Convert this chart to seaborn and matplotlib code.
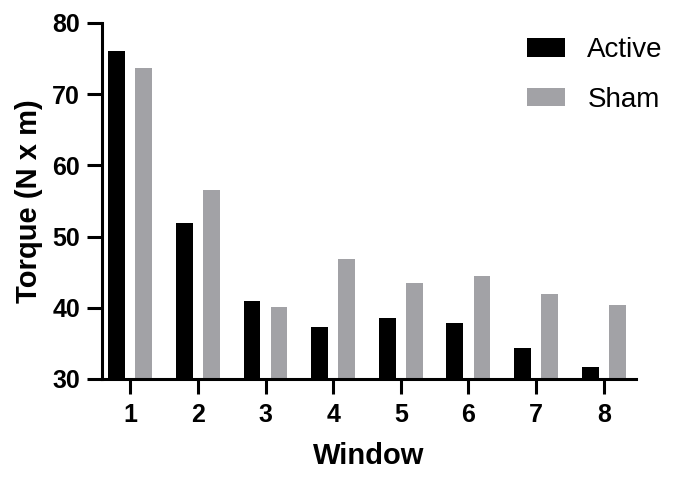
import pandas as pd
import numpy as np
import matplotlib
matplotlib.use("Agg")
import matplotlib.pyplot as plt
import seaborn as sns

windows = ["1", "2", "3", "4", "5", "6", "7", "8"]
active = [76.0, 51.9, 40.9, 37.3, 38.5, 37.9, 34.3, 31.7]
sham = [73.7, 56.5, 40.1, 46.8, 43.5, 44.5, 41.9, 40.4]
groups = ["Active", "Sham"]
colors = {"Active": "#000000", "Sham": "#a2a2a6"}

df = pd.DataFrame({
    "Window": windows * 2,
    "Torque": active + sham,
    "Group": ["Active"] * len(windows) + ["Sham"] * len(windows),
})

sns.set_style("ticks")
plt.rcParams["font.family"] = ["Liberation Sans", "DejaVu Sans"]
plt.rcParams["text.color"] = "black"
plt.rcParams["axes.labelcolor"] = "black"
plt.rcParams["xtick.color"] = "black"
plt.rcParams["ytick.color"] = "black"

fig = plt.figure(figsize=(6.74, 4.79), dpi=100)
ax = fig.add_axes([0.151, 0.209, 0.792, 0.743])

sns.barplot(data=df, x="Window", y="Torque", hue="Group", hue_order=groups,
            palette=colors, gap=0.375, width=0.8, saturation=1,
            linewidth=0, ax=ax)

ax.set_ylim(30, 80)
ax.set_yticks([30, 40, 50, 60, 70, 80])
ax.set_xlim(-0.42, 7.47)
ax.set_xlabel("Window", fontsize=21, fontweight="bold", labelpad=11)
ax.set_ylabel("Torque (N x m)", fontsize=21, fontweight="bold", labelpad=7)

for side in ["top", "right"]:
    ax.spines[side].set_visible(False)
for side in ["left", "bottom"]:
    ax.spines[side].set_linewidth(2.2)
    ax.spines[side].set_color("black")
ax.tick_params(axis="both", width=2.2, length=10.5, labelsize=18, pad=5)
ax.tick_params(axis="x", pad=7)
for lab in ax.get_xticklabels() + ax.get_yticklabels():
    lab.set_fontweight("bold")

ax.legend(loc="upper left", bbox_to_anchor=(527 / 674, 1 - 37 / 479),
          bbox_transform=fig.transFigure, frameon=False, fontsize=20,
          handlelength=1.37, handleheight=0.65, handletextpad=0.8,
          labelspacing=0.85, borderpad=0, borderaxespad=0)

fig.savefig("out.png", dpi=100)
